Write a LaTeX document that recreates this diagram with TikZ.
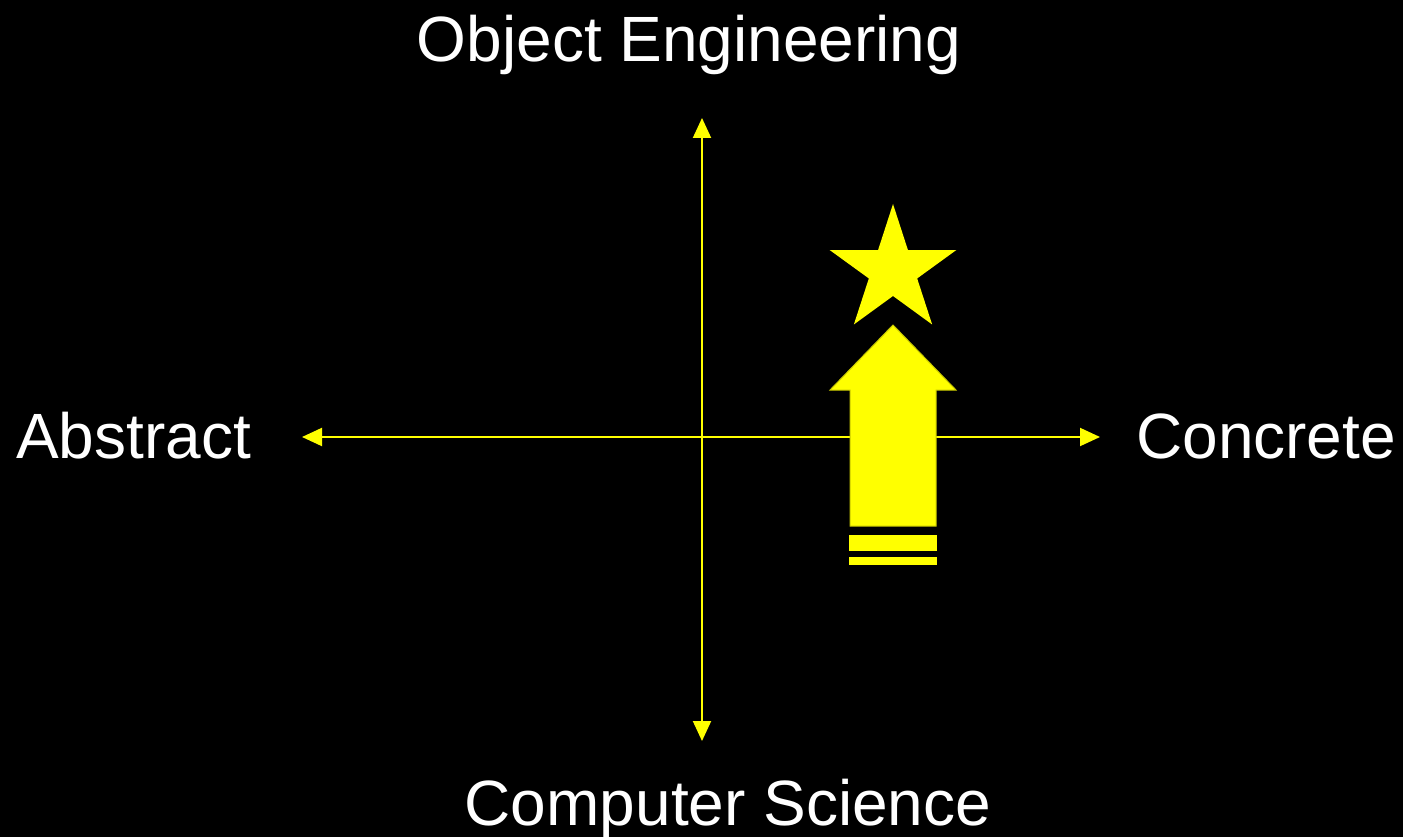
\documentclass[tikz,border=0pt]{standalone}
\usepackage{fontspec}
\setmainfont{Liberation Sans}
\usetikzlibrary{arrows.meta,positioning}
\definecolor{axyellow}{RGB}{255,255,0}
\definecolor{axedge}{RGB}{200,200,0}

\begin{document}
\begin{tikzpicture}[x=1pt,y=-1pt,>={Triangle[length=20pt,width=18pt]},
    label/.style={text=white,inner sep=0pt,font=\fontsize{64}{77}\selectfont},
    axis/.style={draw=axyellow,fill=axyellow,line width=2pt,<->}]
    \fill[black] (0,0) rectangle (1403,837);
    \useasboundingbox (0,0) rectangle (1403,837);
    % axes
    \coordinate (west) at (302,437);
    \coordinate (east) at (1100,437);
    \coordinate (north) at (702,118);
    \coordinate (south) at (702,741);
    \draw[axis] (west) -- (east);
    \draw[axis] (north) -- (south);
    % labels
    \node[label,anchor=base] (oe) at (689,62) {Object Engineering};
    \node[label,anchor=base] (cs) at (728,825) {Computer Science};
    \node[label,anchor=base west] (abs) at (16,458) {Abstract};
    \node[label,anchor=base west] (con) at (1136,458) {Concrete};
    % up arrow with bars
    \filldraw[fill=axyellow,draw=axedge,line width=1pt]
      (893,325) -- (956,390) -- (936,390) -- (936,526) -- (850,526)
      -- (850,390) -- (830,390) -- cycle;
    \fill[axyellow] (849,535) rectangle (937,551);
    \fill[axyellow] (849,557) rectangle (937,565);
    % star
    \begin{scope}[shift={(893,270.6)},y=1pt]
      \fill[axyellow] (90:66.6) \foreach \i in {1,...,4} {
        -- ({90+72*\i-36}:25.4) -- ({90+72*\i}:66.6) } -- (54:25.4) -- cycle;
    \end{scope}
  \end{tikzpicture}
\end{document}
